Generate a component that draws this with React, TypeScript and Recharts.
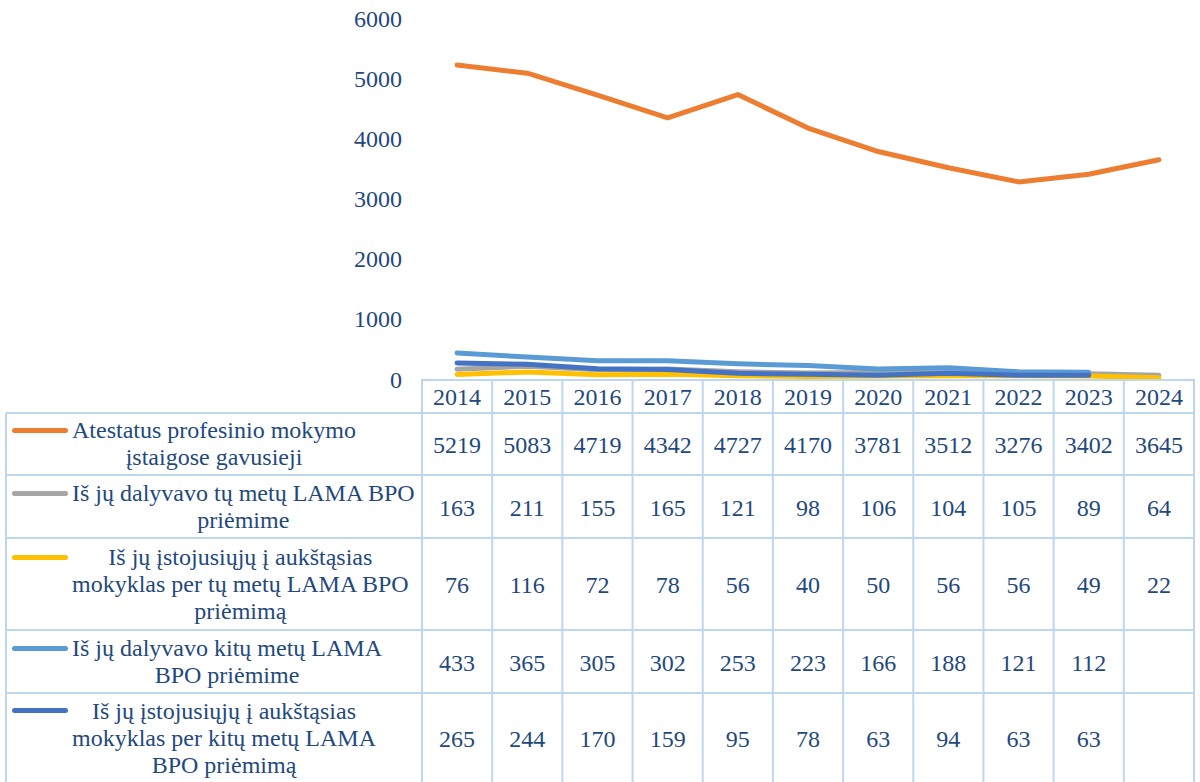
import React from "react";
import { LineChart, Line, XAxis, YAxis } from "recharts";

// metai ir eilutės iš duomenų lentelės
const YEARS = ["2014", "2015", "2016", "2017", "2018", "2019", "2020", "2021", "2022", "2023", "2024"];
const ATESTATAI = [5219, 5083, 4719, 4342, 4727, 4170, 3781, 3512, 3276, 3402, 3645];
const TU_DALYVAVO = [163, 211, 155, 165, 121, 98, 106, 104, 105, 89, 64];
const TU_ISTOJO = [76, 116, 72, 78, 56, 40, 50, 56, 56, 49, 22];
const KITU_DALYVAVO: (number | null)[] = [433, 365, 305, 302, 253, 223, 166, 188, 121, 112, null];
const KITU_ISTOJO: (number | null)[] = [265, 244, 170, 159, 95, 78, 63, 94, 63, 63, null];
const Y_TICKS = [0, 1000, 2000, 3000, 4000, 5000, 6000];

const SERIES = [
  { key: "atestatai", values: ATESTATAI, color: "#ED7D31", name: "Atestatus profesinio mokymo\nįstaigose gavusieji" },
  { key: "tuDalyvavo", values: TU_DALYVAVO, color: "#A5A5A5", name: "Iš jų dalyvavo tų metų LAMA BPO\npriėmime" },
  { key: "tuIstojo", values: TU_ISTOJO, color: "#FFC000", name: "Iš jų įstojusiųjų į aukštąsias\nmokyklas per tų metų LAMA BPO\npriėmimą" },
  { key: "kituDalyvavo", values: KITU_DALYVAVO, color: "#5B9BD5", name: "Iš jų dalyvavo kitų metų LAMA\nBPO priėmime" },
  { key: "kituIstojo", values: KITU_ISTOJO, color: "#4472C4", name: "Iš jų įstojusiųjų į aukštąsias\nmokyklas per kitų metų LAMA\nBPO priėmimą" },
];

const data = YEARS.map((year, i) => {
  const row: Record<string, string | number | null> = { year };
  SERIES.forEach((s) => (row[s.key] = s.values[i]));
  return row;
});

// lentelės išdėstymas (px)
const W = 1200;
const H = 782;
const PLOT_TOP = 18;
const PLOT_BOTTOM = 379;
const PLOT_LEFT = 422;
const PLOT_RIGHT = 1194;
const COL_W = (PLOT_RIGHT - PLOT_LEFT) / YEARS.length;
const HEADER_BOTTOM = 413;
const ROW_EDGES = [413, 475, 538, 630, 693, 782];
const TEXT = "#1F497D";
const GRID = "#BDD7EE";
const FONT = "Times New Roman, Liberation Serif, serif";
const FS = 24;
const LH = 27;

function TableColumn(props: any) {
  const { x, payload } = props;
  const i = YEARS.indexOf(String(payload.value));
  const left = x - COL_W / 2;
  const right = x + COL_W / 2;
  return (
    <g>
      <line x1={left} x2={left} y1={PLOT_BOTTOM} y2={H} stroke={GRID} strokeWidth={2} />
      {i === YEARS.length - 1 && (
        <line x1={right} x2={right} y1={PLOT_BOTTOM} y2={H} stroke={GRID} strokeWidth={2} />
      )}
      <line x1={left} x2={right} y1={PLOT_BOTTOM + 1} y2={PLOT_BOTTOM + 1} stroke={GRID} strokeWidth={2} />
      {ROW_EDGES.slice(0, -1).map((y) => (
        <line key={y} x1={left} x2={right} y1={y} y2={y} stroke={GRID} strokeWidth={2} />
      ))}
      <text x={x} y={(PLOT_BOTTOM + HEADER_BOTTOM) / 2 + 1} textAnchor="middle" dominantBaseline="central"
        fill={TEXT} fontSize={FS} fontFamily={FONT}>
        {payload.value}
      </text>
      {SERIES.map((s, r) => {
        const v = s.values[i];
        if (v == null) return null;
        return (
          <text key={s.key} x={x} y={(ROW_EDGES[r] + ROW_EDGES[r + 1]) / 2 + 1} textAnchor="middle"
            dominantBaseline="central" fill={TEXT} fontSize={FS} fontFamily={FONT}>
            {v}
          </text>
        );
      })}
    </g>
  );
}

function LegendColumn() {
  return (
    <div style={{ position: "absolute", left: 0, top: 0, width: W, height: H, pointerEvents: "none" }}>
      <div style={{ position: "absolute", left: 5, top: ROW_EDGES[0], width: 2, height: H - ROW_EDGES[0], background: GRID }} />
      {SERIES.map((s, r) => {
        const top = ROW_EDGES[r];
        const h = ROW_EDGES[r + 1] - top;
        const lines = s.name.split("\n").length;
        const firstLine = h / 2 - ((lines - 1) * LH) / 2;
        return (
          <div key={s.key} style={{ position: "absolute", left: 6, top, width: PLOT_LEFT - 6, height: h }}>
            <div style={{ position: "absolute", left: 0, right: 0, top: -1, height: 2, background: GRID }} />
            <div style={{ position: "absolute", left: 6, top: firstLine - 2.5, width: 56, height: 5, borderRadius: 3, background: s.color }} />
            <div style={{
              position: "absolute", left: 66, top: h / 2, transform: "translateY(-50%)",
              whiteSpace: "pre", textAlign: "center", color: TEXT,
              fontFamily: FONT, fontSize: FS, lineHeight: `${LH}px`,
            }}>
              {s.name}
            </div>
          </div>
        );
      })}
    </div>
  );
}

export default function App() {
  return (
    <div style={{ position: "absolute", left: 0, top: 0, width: W, height: H, background: "#fff", overflow: "hidden" }}>
      <LineChart width={W} height={H} data={data}
        margin={{ top: PLOT_TOP, right: W - PLOT_RIGHT, left: 0, bottom: 0 }}>
        <XAxis dataKey="year" height={H - PLOT_BOTTOM} axisLine={false} tickLine={false} interval={0}
          padding={{ left: COL_W / 2, right: COL_W / 2 }} tick={<TableColumn />} />
        <YAxis width={PLOT_LEFT} domain={[0, 6000]} ticks={Y_TICKS} axisLine={false} tickLine={false}
          tickSize={0} tickMargin={20} tick={{ fill: TEXT, fontSize: FS, fontFamily: FONT }} />
        {SERIES.map((s) => (
          <Line key={s.key} dataKey={s.key} type="linear" stroke={s.color} strokeWidth={5}
            strokeLinecap="round" strokeLinejoin="round" dot={false} activeDot={false}
            isAnimationActive={false} />
        ))}
      </LineChart>
      <LegendColumn />
    </div>
  );
}
